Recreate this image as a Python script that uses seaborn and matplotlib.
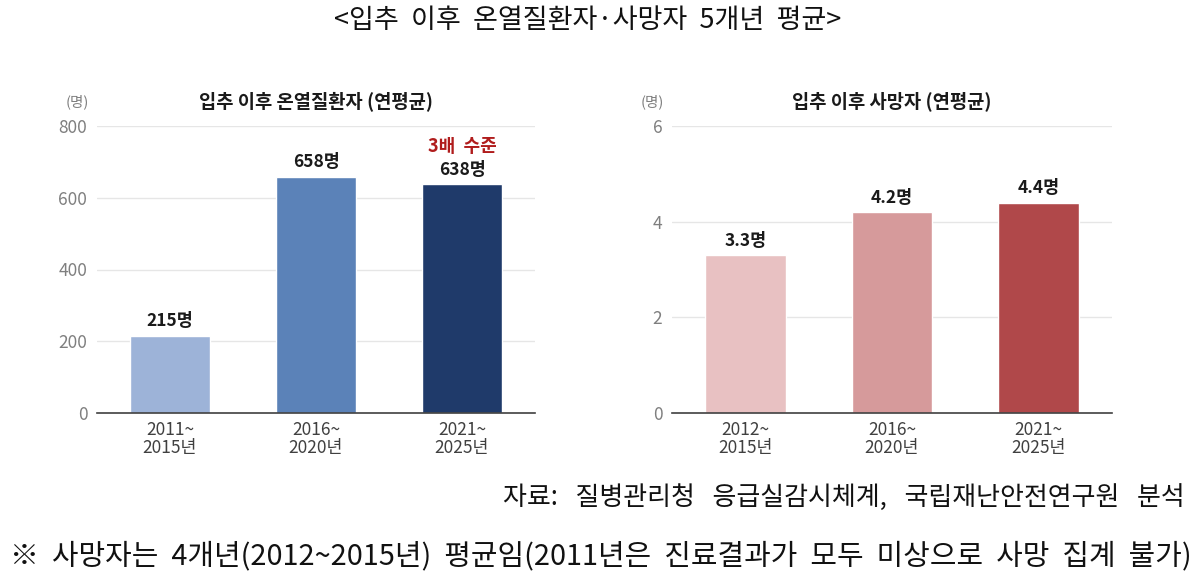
import matplotlib
matplotlib.use("Agg")
import matplotlib.pyplot as plt
import seaborn as sns
import pandas as pd

sns.set_theme(style="white")
plt.rcParams['font.family'] = ['Noto Sans CJK KR', 'DejaVu Sans']

# Data
periods_ill = ["2011~\n2015년", "2016~\n2020년", "2021~\n2025년"]
ill_values = [215, 658, 638]
ill_labels = ["215명", "658명", "638명"]
ill_colors = ["#9db3d8", "#5b82b8", "#1f3a6a"]

periods_death = ["2012~\n2015년", "2016~\n2020년", "2021~\n2025년"]
death_values = [3.3, 4.2, 4.4]
death_labels = ["3.3명", "4.2명", "4.4명"]
death_colors = ["#e8c1c2", "#d69a9b", "#b0484a"]

ill_ticks = [0, 200, 400, 600, 800]
death_ticks = [0, 2, 4, 6]

fig = plt.figure(figsize=(12, 5.86), dpi=100)
ax1 = fig.add_axes([97/1200, 173/586, 438/1200, 287/586])
ax2 = fig.add_axes([672/1200, 173/586, 440/1200, 287/586])

def draw(ax, cats, vals, labels, colors, ticks, title, ymax):
    df = pd.DataFrame({"cat": cats, "val": vals})
    sns.barplot(data=df, x="cat", y="val", hue="cat", palette=colors,
                width=0.548, legend=False, ax=ax, saturation=1)
    ax.set_ylim(0, ymax)
    ax.set_xlim(-0.5, 2.5)
    ax.set_yticks(ticks)
    ax.set_yticklabels([str(t) for t in ticks], color="#7f7f7f", fontsize=12.5)
    ax.tick_params(axis="x", colors="#404040", labelsize=12.5, pad=6, length=0)
    ax.tick_params(axis="y", length=0, pad=7)
    for t in ax.get_xticklabels():
        t.set_linespacing(1.0)
    ax.set_xlabel("")
    ax.set_ylabel("")
    ax.yaxis.grid(True, color="#e6e6e6", linewidth=1)
    ax.set_axisbelow(True)
    for s in ["top", "right", "left"]:
        ax.spines[s].set_visible(False)
    ax.spines["bottom"].set_color("#404040")
    ax.spines["bottom"].set_linewidth(1.2)
    for i, (v, lab) in enumerate(zip(vals, labels)):
        ax.annotate(lab, (i, v), xytext=(0, 4), textcoords="offset points",
                    ha="center", va="bottom", fontsize=12.5, fontweight="bold",
                    color="#1a1a1a")
    ax.text(0.5, 1.085, title, transform=ax.transAxes, ha="center", va="center",
            fontsize=13.5, fontweight="bold", color="#1a1a1a")
    ax.text(-0.045, 1.085, "(명)", transform=ax.transAxes, ha="center", va="center",
            fontsize=10.5, color="#7f7f7f")

draw(ax1, periods_ill, ill_values, ill_labels, ill_colors, ill_ticks,
     "입추 이후 온열질환자 (연평균)", 800)
draw(ax2, periods_death, death_values, death_labels, death_colors, death_ticks,
     "입추 이후 사망자 (연평균)", 6)

ax1.annotate("3배  수준", (2, ill_values[2]), xytext=(0, 20), textcoords="offset points",
             ha="center", va="bottom", fontsize=13, fontweight="bold", color="#b01c1c")

fig.text(588/1200, 1 - 21/586, "<입추  이후  온열질환자·사망자  5개년  평균>", ha="center",
         va="center", fontsize=19.5, color="#111111")
fig.text(1185/1200, 1 - 497/586, "자료:   질병관리청   응급실감시체계,   국립재난안전연구원   분석",
         ha="right", va="center", fontsize=18.7, color="#111111")
fig.text(10/1200, 1 - 556/586,
         "※  사망자는  4개년(2012~2015년)  평균임(2011년은  진료결과가  모두  미상으로  사망  집계  불가)",
         ha="left", va="center", fontsize=20.8, color="#111111")

fig.savefig("out.png", dpi=100, facecolor="white")
